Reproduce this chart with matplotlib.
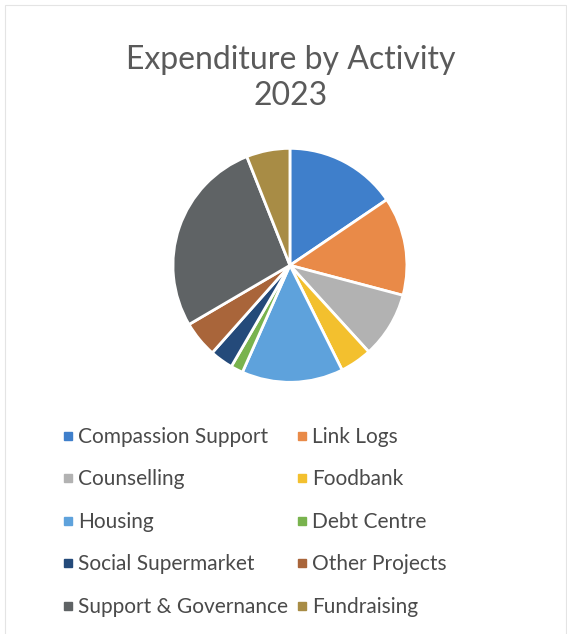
import matplotlib.pyplot as plt
from matplotlib.lines import Line2D
from matplotlib.patches import Rectangle

plt.rcParams['font.family'] = ['Lato', 'DejaVu Sans']

activities = ['Compassion Support', 'Link Logs', 'Counselling', 'Foodbank',
              'Housing', 'Debt Centre', 'Social Supermarket', 'Other Projects',
              'Support & Governance', 'Fundraising']
# share of spend (%)
shares = [15.5, 13.6, 9.1, 4.4, 14.0, 1.7, 3.2, 5.0, 27.4, 6.0]
colours = ['#3f7fcb', '#e98a48', '#b2b2b2', '#f3c02e', '#5ea2dc',
           '#79b34e', '#244a7a', '#a9653a', '#5f6365', '#a88c45']

fig = plt.figure(figsize=(5.67, 6.34), dpi=100)

# faint chart-area border from the scan
fig.patches.append(Rectangle((0.009, -0.01), 0.989, 1.002, transform=fig.transFigure,
                             fill=False, edgecolor='#e4e4e4', linewidth=0.8))

fig.text(0.513, 0.891, 'Expenditure by Activity', ha='center', va='baseline',
         fontsize=23, color='#5a5a5a')
fig.text(0.513, 0.834, '2023', ha='center', va='baseline',
         fontsize=23, color='#5a5a5a')

ax = fig.add_axes([0.305, 0.397, 0.4127, 0.369])
wedges, _ = ax.pie(shares, colors=colours, startangle=90, counterclock=False,
                   wedgeprops=dict(edgecolor='white', linewidth=2))
ax.set_xlim(-1.0, 1.0)
ax.set_ylim(-1.0, 1.0)
ax.set_aspect('equal')

# legend is read row by row, matplotlib fills columns first
order = list(range(0, 10, 2)) + list(range(1, 10, 2))
handles = [Line2D([], [], marker='s', linestyle='none', markersize=6,
                  markerfacecolor=colours[i], markeredgecolor=colours[i])
           for i in order]
labels = [activities[i] for i in order]
fig.legend(handles, labels, ncol=2, loc='upper left',
           bbox_to_anchor=(0.09, 0.343), frameon=False, fontsize=15,
           labelcolor='#4a4a4a', handlelength=0.6, handletextpad=0.2,
           labelspacing=1.08, columnspacing=0.35, borderpad=0)

fig.savefig('out.png', dpi=100)
